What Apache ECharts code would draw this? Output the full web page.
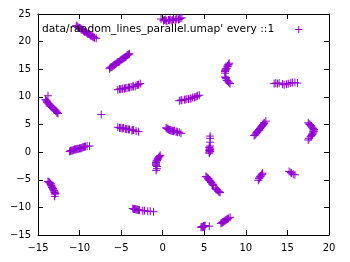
<!DOCTYPE html>
<html><head><meta charset="utf-8">
<script src="https://cdn.jsdelivr.net/npm/echarts@6/dist/echarts.min.js"></script>
<style>html,body{margin:0;padding:0;background:#fff}#c{width:350px;height:262px}</style>
</head><body><div id="c"></div>
<script>
var seriesName = "data/random_lines_parallel.umap' every ::1";
var xTicks = [-15, -10, -5, 0, 5, 10, 15, 20];
var yTicks = [-15, -10, -5, 0, 5, 10, 15, 20, 25];
var clusterA = [[-0.2,24.1],[0.1,23.8],[0.3,24.0],[0.5,23.7],[0.7,23.9],[0.9,24.0],[1.1,23.8],[1.3,24.1],[1.5,23.9],[1.7,24.2],[1.9,24.0],[2.1,24.2],[2.3,24.3],
  [0.2,23.9],[0.4,23.8],[0.8,23.9],[1.2,23.9],[1.6,24.0],[2.0,24.1]];
var clusterB = [[-10.4,22.9],[-10.2,22.6],[-10.0,22.5],[-9.8,22.2],[-9.6,22.1],[-9.4,21.8],[-9.2,21.7],[-9.0,21.4],[-8.8,21.3],[-8.6,21.0],[-8.4,20.9],[-8.2,20.7],[-8.0,20.6],
  [-10.3,22.8],[-10.1,22.5],[-9.9,22.4],[-9.7,22.2],[-9.5,21.9],[-9.3,21.8],[-9.1,21.5],[-8.9,21.4],[-8.7,21.1],[-8.5,21.0],[-8.3,20.8]];
var clusterC = [[-6.4,15.1],[-6.2,15.4],[-6.0,15.6],[-5.8,15.8],[-5.6,16.0],[-5.4,16.3],[-5.2,16.4],[-5.0,16.7],[-4.8,16.9],[-4.6,17.1],[-4.4,17.3],[-4.2,17.6],[-4.0,17.8],
  [-6.3,15.3],[-6.1,15.4],[-5.9,15.7],[-5.7,15.9],[-5.5,16.2],[-5.3,16.3],[-5.1,16.6],[-4.9,16.8],[-4.7,17.0],[-4.5,17.2],[-4.3,17.5],[-4.1,17.7]];
var clusterD = [[-5.4,11.3],[-5.1,11.4],[-4.8,11.5],[-4.6,11.5],[-4.3,11.6],[-4.0,11.7],[-3.8,11.8],[-3.5,11.9],[-3.3,11.9],[-3.1,12.1],[-2.9,12.2],[-2.7,12.4],
  [-5.2,11.4],[-4.9,11.4],[-4.5,11.6],[-4.1,11.7],[-3.6,11.9],[-3.0,12.2]];
var clusterE = [[8.0,16.1],[7.9,15.8],[7.8,15.5],[7.7,15.2],[7.6,14.9],[7.5,14.6],[7.5,14.3],[7.5,13.6],[7.6,13.3],[7.7,13.0],[7.9,12.7],[8.1,12.4],
  [7.9,15.9],[7.8,15.6],[7.6,15.1],[7.5,14.8],[7.6,13.5],[7.8,12.9],[8.0,12.5]];
var clusterF = [[13.4,12.4],[13.6,12.5],[13.8,12.4],[14.0,12.5],[14.4,12.3],[14.6,12.2],[14.9,12.3],[15.1,12.4],[15.4,12.5],[15.6,12.6],[15.9,12.6],[16.2,12.5]];
var clusterG = [[2.0,9.3],[2.3,9.4],[2.6,9.5],[2.9,9.6],[3.1,9.6],[3.4,9.7],[3.6,9.9],[3.9,10.0],[4.1,10.1],[4.4,10.3],
  [2.2,9.4],[2.7,9.5],[3.3,9.7],[3.8,9.9],[4.2,10.2]];
var clusterH = [[-13.8,10.2],[-14.1,9.5],[-13.9,9.2],[-13.8,8.9],[-13.6,8.5],[-13.4,8.2],[-13.2,8.0],[-13.0,7.7],[-12.9,7.5],[-12.7,7.2],[-12.6,7.0],
  [-14.0,9.3],[-13.9,9.0],[-13.7,8.7],[-13.5,8.3],[-13.3,8.1],[-13.1,7.8],[-12.8,7.4],[-12.7,7.1]];
var clusterI = [[-7.4,6.8]];
var clusterJ = [[-5.4,4.5],[-5.1,4.4],[-4.9,4.3],[-4.7,4.4],[-4.5,4.2],[-4.3,4.2],[-4.0,4.1],[-3.7,3.9],[-3.5,4.0],[-3.2,3.8],[-2.9,3.7],
  [-5.2,4.4],[-4.8,4.3],[-4.4,4.2],[-4.1,4.1],[-3.6,4.0]];
var clusterK = [[0.4,4.4],[0.6,4.2],[0.8,4.0],[1.0,3.9],[1.2,3.8],[1.4,3.9],[1.6,3.7],[1.8,3.6],[2.0,3.6],[2.2,3.4],
  [0.5,4.3],[0.7,4.1],[0.9,4.0],[1.1,3.9],[1.3,3.8],[1.7,3.7]];
var clusterL = [[5.7,2.9],[5.7,2.5],[5.7,1.8],[5.7,1.1],[5.6,0.8],[5.7,0.6],[5.6,0.4],[5.7,0.2],[5.6,0.0],[5.6,-0.2],
  [5.6,0.9],[5.7,0.5],[5.6,0.3],[5.7,0.1]];
var clusterM = [[-11.2,0.1],[-11.0,0.3],[-10.8,0.3],[-10.6,0.5],[-10.4,0.5],[-10.2,0.6],[-10.0,0.7],[-9.8,0.7],[-9.6,0.9],[-9.3,1.0],[-9.1,1.1],[-8.8,1.1],
  [-11.1,0.2],[-10.9,0.3],[-10.7,0.4],[-10.5,0.5],[-10.3,0.6],[-10.1,0.6],[-9.9,0.7],[-9.7,0.8],[-9.5,0.9],[-9.4,1.0]];
var clusterN = [[-0.3,-0.6],[-0.5,-1.0],[-0.6,-1.3],[-0.7,-1.6],[-0.8,-1.9],[-0.8,-2.2],[-0.7,-2.6],[-0.7,-3.0],[-0.8,-3.3],
  [-0.4,-0.8],[-0.6,-1.2],[-0.7,-1.5],[-0.8,-1.8],[-0.8,-2.0],[-0.8,-2.4]];
var clusterO = [[17.5,5.3],[17.7,5.0],[17.9,4.7],[18.0,4.4],[18.2,4.1],[18.2,3.8],[18.1,3.5],[18.0,3.2],[17.8,2.8],[17.6,2.5],[17.5,2.2],
  [17.6,5.1],[17.8,4.8],[18.1,4.3],[18.1,4.0],[18.1,3.7],[18.0,3.3],[17.9,3.0]];
var clusterP = [[11.0,3.0],[11.2,3.3],[11.3,3.6],[11.5,3.9],[11.6,4.1],[11.8,4.4],[11.9,4.7],[12.1,5.0],[12.2,5.3],[12.4,5.6],
  [11.1,3.1],[11.3,3.5],[11.4,3.7],[11.6,4.0],[11.7,4.3],[11.9,4.6],[12.0,4.8],[12.2,5.2]];
var clusterQ = [[12.0,-3.8],[11.9,-4.1],[11.8,-4.3],[11.7,-4.5],[11.6,-4.8],[11.5,-5.1],[11.95,-4.0],[11.75,-4.4],[11.6,-4.7]];
var clusterR = [[15.2,-3.5],[15.4,-3.7],[15.5,-3.8],[15.7,-4.0],[15.9,-4.1]];
var clusterS = [[-13.8,-5.3],[-13.6,-5.5],[-13.5,-5.8],[-13.4,-6.1],[-13.3,-6.4],[-13.2,-6.7],[-13.1,-7.0],[-13.0,-7.3],[-13.0,-7.6],[-13.0,-8.0],
  [-13.7,-5.4],[-13.5,-5.7],[-13.4,-6.0],[-13.3,-6.3],[-13.2,-6.6],[-13.1,-6.9],[-13.0,-7.2],[-12.9,-7.5]];
var clusterT = [[-3.6,-10.2],[-3.4,-10.3],[-3.2,-10.4],[-3.0,-10.4],[-2.8,-10.5],[-2.4,-10.6],[-2.2,-10.6],[-1.8,-10.7],[-1.5,-10.7],[-1.1,-10.8],
  [-3.5,-10.3],[-3.3,-10.3],[-3.1,-10.4],[-2.9,-10.5]];
var clusterU = [[5.2,-4.4],[5.4,-4.7],[5.5,-4.9],[5.7,-5.2],[5.8,-5.5],[6.0,-5.8],[6.1,-6.0],[6.3,-6.5],[6.5,-6.8],[6.7,-7.1],[6.9,-7.3],
  [5.3,-4.5],[5.5,-4.8],[5.6,-5.1],[5.8,-5.4],[5.9,-5.6],[6.0,-5.9],[6.4,-6.7],[6.6,-6.9],[6.8,-7.2]];
var clusterW = [[7.0,-12.9],[7.2,-12.7],[7.4,-12.5],[7.5,-12.4],[7.7,-12.2],[7.9,-12.0],[8.1,-11.8],[7.1,-12.8],[7.3,-12.6],[7.6,-12.3],[7.8,-12.1]];
var clusterX = [[4.6,-13.6],[4.8,-13.6],[4.9,-13.4],[5.0,-13.5],[5.1,-13.3],[5.6,-13.4],[4.7,-13.5],[4.9,-13.5],[5.0,-13.4]];

var allPoints = [].concat(clusterA, clusterB, clusterC, clusterD, clusterE, clusterF, clusterG, clusterH, clusterI,
  clusterJ, clusterK, clusterL, clusterM, clusterN, clusterO, clusterP, clusterQ, clusterR, clusterS, clusterT,
  clusterU, clusterW, clusterX);

var PURPLE = '#9400D3';
var FONT = 'DejaVu Sans';
var plusPath = 'path://M0,5L10,5M5,0L5,10';
function fmt(v){ return String(v).replace('-', '\u2212'); }

var chart = echarts.init(document.getElementById('c'), null, {renderer:'canvas'});
function mkAxis(pos, ticks, showLabel){
  return {
    type: 'value', position: pos, min: ticks[0], max: ticks[ticks.length-1], interval: 5,
    axisLine: {show: true, onZero: false, lineStyle: {color: '#000', width: 1}},
    axisTick: {show: true, inside: true, length: 5, lineStyle: {color: '#000'}},
    splitLine: {show: false},
    axisLabel: {show: showLabel, color: '#000', fontFamily: FONT, fontSize: 10, formatter: fmt}
  };
}
var xb = mkAxis('bottom', xTicks, true); xb.axisLabel.margin = 8;
var xt = mkAxis('top', xTicks, false);
var yl = mkAxis('left', yTicks, true); yl.axisLabel.margin = 7;
var yr = mkAxis('right', yTicks, false);

chart.setOption({
  animation: false,
  backgroundColor: '#fff',
  grid: {left: 38, right: 21, top: 14, bottom: 27, containLabel: false, outerBoundsMode: 'none'},
  xAxis: [xb, xt],
  yAxis: [yl, yr],
  legend: {
    show: true, left: 37, top: 19, align: 'right', orient: 'horizontal',
    itemWidth: 39, itemHeight: 7, symbolKeepAspect: true,
    textStyle: {color: '#000', fontFamily: FONT, fontSize: 10.7},
    data: [{name: seriesName, icon: plusPath, itemStyle: {color: 'rgba(0,0,0,0)', borderColor: PURPLE, borderWidth: 1}}]
  },
  series: [{
    name: seriesName, type: 'scatter', xAxisIndex: 0, yAxisIndex: 0,
    symbol: plusPath, symbolSize: 8,
    itemStyle: {color: 'rgba(0,0,0,0)', borderColor: PURPLE, borderWidth: 1, opacity: 1},
    emphasis: {disabled: true},
    data: allPoints
  }]
});
</script></body></html>
